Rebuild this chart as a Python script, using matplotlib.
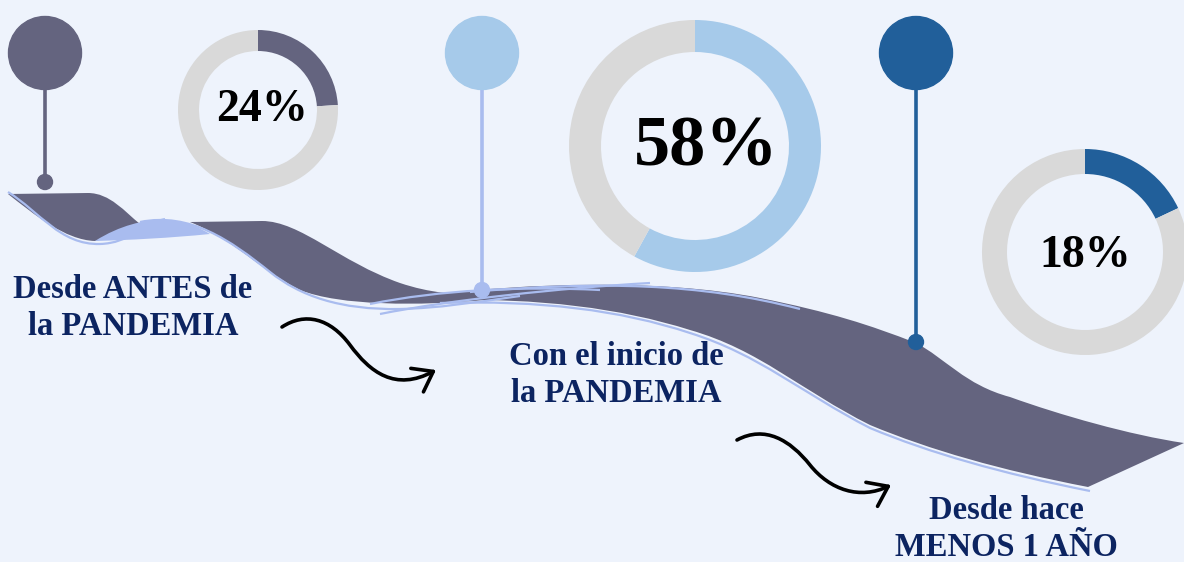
import matplotlib
matplotlib.use("Agg")
import matplotlib.pyplot as plt
from matplotlib.patches import Wedge, Circle, PathPatch, FancyArrowPatch
from matplotlib.path import Path

# Datos
categorias = ["Desde ANTES de\nla PANDEMIA", "Con el inicio de\nla PANDEMIA", "Desde hace\nMENOS 1 AÑO"]
porcentajes = [24, 58, 18]
etiquetas = ["24%", "58%", "18%"]

# Colores
fondo = "#EEF3FC"
cinta = "#64647F"
borde = "#A9BCEF"
gris = "#D9D9D9"
colores = ["#64647F", "#A6CAEA", "#215F9A"]
tallos = ["#64647F", "#A9BCEF", "#215F9A"]
azul_txt = "#0C2461"

# Posiciones (pixeles de la imagen)
donas = [((258, 110), 80, 21), ((695, 146), 126, 32), ((1085, 252), 103, 25)]
tam_pct = [33, 52, 33]
pos_pct = [(262, 110), (706, 148), (1085, 256)]
pines = [(45, 53, 182), (482, 53, 290), (916, 53, 342)]
pos_cat = [(133, 308), (616, 375), (1006, 529)]

fig = plt.figure(figsize=(11.84, 5.62), dpi=100)
fig.patch.set_facecolor(fondo)
ax = fig.add_axes([0, 0, 1, 1])
ax.set_xlim(0, 1184)
ax.set_ylim(562, 0)
ax.set_facecolor(fondo)
ax.axis("off")

M, L, C, Z = Path.MOVETO, Path.LINETO, Path.CURVE4, Path.CLOSEPOLY


def forma(pts, codes, **kw):
    ax.add_patch(PathPatch(Path(pts, codes), **kw))


# Cinta ondulada (decoracion)
forma([(8, 194), (88, 193), (110, 193), (125, 212), (140, 224),
       (125, 232), (110, 238), (95, 241), (65, 240), (35, 215), (8, 194), (8, 194)],
      [M, L, C, C, C, C, C, C, C, C, C, Z], facecolor=cinta, edgecolor="none", zorder=2)
forma([(190, 222), (262, 221), (300, 221), (340, 262), (400, 283),
       (430, 293), (455, 295), (485, 294), (485, 300),
       (420, 306), (340, 306), (300, 290), (260, 270), (235, 240), (190, 222), (190, 222)],
      [M, L, C, C, C, C, C, C, L, C, C, C, C, C, C, Z], facecolor=cinta, edgecolor="none", zorder=2)
forma([(440, 294), (520, 284), (660, 278), (760, 298),
       (830, 312), (870, 325), (916, 343),
       (945, 358), (965, 385), (1010, 397),
       (1060, 415), (1130, 435), (1184, 443),
       (1088, 487),
       (1000, 470), (930, 450), (870, 425),
       (800, 390), (760, 350), (690, 330),
       (620, 308), (540, 298), (440, 300), (440, 300)],
      [M, C, C, C, C, C, C, C, C, C, C, C, C, L, C, C, C, C, C, C, C, C, C, Z],
      facecolor=cinta, edgecolor="none", zorder=2)
forma([(95, 241), (120, 225), (145, 220), (160, 220), (185, 220), (200, 228), (210, 234),
       (170, 238), (130, 240), (95, 241), (95, 241)],
      [M, C, C, C, C, C, C, C, C, C, Z], facecolor=borde, edgecolor="none", zorder=3)

lineas = [
    ([(8, 192), (40, 212), (60, 245), (100, 244), (130, 243), (140, 225), (165, 219)], [M, C, C, C, C, C, C]),
    ([(140, 222), (190, 212), (230, 240), (270, 272), (300, 296), (340, 310), (400, 309),
      (440, 308), (470, 303), (520, 296)], [M, C, C, C, C, C, C, C, C, C]),
    ([(440, 303), (540, 300), (620, 310), (690, 333), (760, 355), (800, 392), (870, 428),
      (930, 453), (1000, 473), (1090, 491)], [M, C, C, C, C, C, C, C, C, C]),
    ([(470, 292), (600, 281), (700, 283), (800, 309)], [M, C, C, C]),
    ([(380, 314), (450, 300), (560, 288), (650, 283)], [M, C, C, C]),
    ([(370, 304), (440, 290), (520, 286), (600, 290)], [M, C, C, C]),
]
for pts, codes in lineas:
    forma(pts, codes, facecolor="none", edgecolor=borde, lw=1.6, zorder=3)

# Pines
for (x, ytop, ybot), col_c, col_t in zip(pines, colores, tallos):
    ax.plot([x, x], [ytop, ybot], color=col_t, lw=2.6, zorder=4, solid_capstyle="butt")
    ax.add_patch(Circle((x, ytop), 36.5, color=col_c, zorder=5))
    ax.add_patch(Circle((x, ybot), 7.5, color=col_t, zorder=5))

# Donas: arco coloreado en sentido horario desde arriba
for (centro, r, w), p, col in zip(donas, porcentajes, colores):
    fin = -90 + 360 * p / 100
    ax.add_patch(Wedge(centro, r, -90, fin, width=w, color=col, zorder=3, lw=0))
    ax.add_patch(Wedge(centro, r, fin, 270, width=w, color=gris, zorder=3, lw=0))

for (x, y), txt, fs in zip(pos_pct, etiquetas, tam_pct):
    ax.text(x, y, txt, ha="center", va="center", fontsize=fs, fontweight="bold",
            family="Liberation Serif", color="black", zorder=6)

for (x, y), txt in zip(pos_cat, categorias):
    ax.text(x, y, txt, ha="center", va="center", fontsize=23.5, fontweight="bold",
            family="Liberation Serif", color=azul_txt, linespacing=1.22, zorder=6)

# Flechas
flechas = [
    [(282, 327), (305, 312), (330, 318), (350, 345), (370, 372), (395, 392), (436, 370)],
    [(737, 440), (765, 425), (790, 440), (810, 465), (830, 490), (860, 500), (891, 485)],
]
for pts in flechas:
    ax.add_patch(FancyArrowPatch(path=Path(pts, [M, C, C, C, C, C, C]),
                                 arrowstyle="->,head_length=0.55,head_width=0.4",
                                 mutation_scale=24, lw=2.6, color="black", zorder=6))

fig.savefig("out.png", dpi=100, facecolor=fondo)
